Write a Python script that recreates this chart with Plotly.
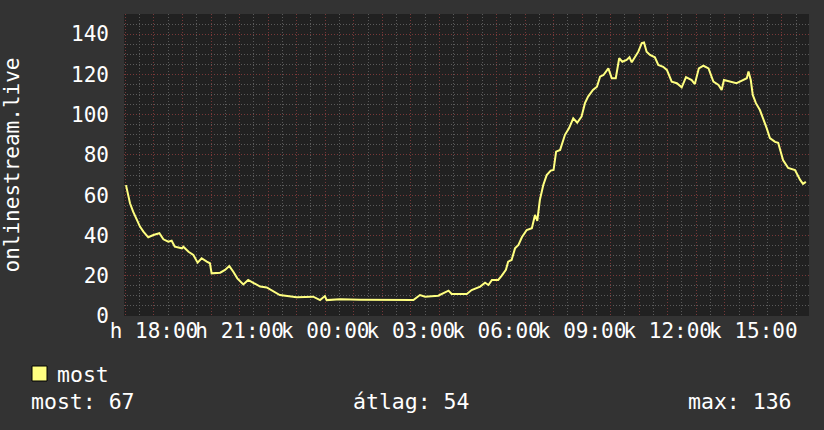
import plotly.graph_objects as go

# ---- data ----
# time axis: hours since Monday 17:00 (graph covers 24 h, 16:57 -> 16:57)
hours = [0.02, 0.16, 0.27, 0.39, 0.51, 0.63, 0.80, 0.98, 1.19, 1.33, 1.50, 1.62, 1.73, 1.98, 2.03,
         2.21, 2.38, 2.53, 2.67, 2.85, 2.96, 3.02, 3.32, 3.49, 3.64, 3.78, 3.92, 4.13, 4.30, 4.48,
         4.72, 4.95, 5.18, 5.41, 6.00, 6.35, 6.58, 6.82, 6.99, 7.05, 7.52, 8.22, 8.92, 9.62, 10.09,
         10.32, 10.50, 10.96, 11.32, 11.43, 11.96, 12.13, 12.43, 12.60, 12.72, 12.84, 13.06, 13.18,
         13.33, 13.41, 13.53, 13.65, 13.77, 13.89, 14.06, 14.24, 14.35, 14.43, 14.52, 14.64, 14.76,
         14.90, 15.00, 15.09, 15.23, 15.40, 15.54, 15.69, 15.83, 15.98, 16.10, 16.21, 16.38, 16.52,
         16.63, 16.75, 16.92, 17.04, 17.18, 17.30, 17.41, 17.56, 17.66, 17.74, 17.86, 17.97, 18.09,
         18.17, 18.26, 18.38, 18.55, 18.67, 18.84, 18.97, 19.14, 19.32, 19.49, 19.64, 19.84, 19.95,
         20.09, 20.25, 20.43, 20.60, 20.78, 20.89, 20.97, 21.18, 21.41, 21.60, 21.77, 21.83, 21.91,
         21.98, 22.09, 22.23, 22.35, 22.47, 22.58, 22.76, 22.87, 23.04, 23.22, 23.46, 23.64, 23.74,
         23.84]
most = [65, 56, 51.8, 47.7, 44.4, 41.9, 39.1, 40.2, 41.1, 38.1, 36.9, 37.4, 34.4, 33.6, 34.4,
        31.9, 30.3, 26.5, 28.7, 27, 26.2, 21.2, 21.5, 22.9, 24.8, 22, 18.7, 15.7, 17.9, 16.5,
        14.6, 14.2, 12.1, 10.4, 9.3, 9.6, 9.6, 7.9, 9.9, 7.9, 8.3, 8.1, 7.9, 7.9, 7.9,
        10.4, 9.6, 10.1, 12.6, 10.9, 10.9, 12.9, 14.6, 16.5, 15.4, 17.9, 17.9, 19.9,
        22.9, 27, 27.8, 33.6, 35.3, 39.1, 42.7, 43.6, 50.2, 47.3, 57.6, 65.1, 70,
        72.2, 72.5, 81.6, 82.5, 90, 93.2, 98.2, 96, 99, 105.7, 109, 112.3, 113.9,
        118.9, 119.7, 123, 118.1, 118.1, 128, 126.3, 127.2, 128.5, 126, 128.5, 131.3, 135.5,
        135.8, 131.3, 129.7, 128.5, 124.7, 123.8, 122.2, 116.4, 115.6, 113.6, 118.6, 117.2, 115.2,
        123, 124.3, 123, 116.4, 114.8, 112.3, 117.2, 116.4, 115.6, 116.9, 118.1, 121.4, 117.2,
        109.8, 105.7, 102.3, 98.2, 93.2, 88.4, 86.5, 86, 77.5, 73.5, 72.5, 67.6, 65.6,
        66.6]

tick_hours = [1, 4, 7, 10, 13, 16, 19, 22]
tick_labels = ["h 18:00", "h 21:00", "k 00:00", "k 03:00", "k 06:00", "k 09:00", "k 12:00", "k 15:00"]
y_ticks = [0, 20, 40, 60, 80, 100, 120, 140]

series_name = "most"
y_title = "onlinestream.live"
stat_current = 67
stat_avg = 54
stat_max = 136

# ---- style / layout ----
W, H = 824, 430
L, R, T, B = 124, 15, 14, 114
PW, PH = W - L - R, H - T - B
X_RANGE = [-0.05, 23.95]
Y_RANGE = [0, 150]
FONT = "DejaVu Sans Mono"
FS = 21
FS_LEG = 21.5
BG = "#333333"
CANVAS = "#212121"
LINE = "#FFFF80"
MINOR = "#5a5a5a"
MAJOR = "#783838"
DOTS = "1px,2px"


def px(xp):
    return (xp - L) / PW


def py(yp):
    return (H - B - yp) / PH


# every hour gets a major grid line; only every third has a label
major_vals = list(range(0, 24))
major_text = [tick_labels[tick_hours.index(h)] if h in tick_hours else "" for h in major_vals]

fig = go.Figure()
fig.add_trace(go.Scatter(x=hours, y=most, mode="lines", line=dict(color=LINE, width=2),
                         showlegend=False, hoverinfo="skip"))
# axis arrows
fig.add_trace(go.Scatter(x=[X_RANGE[0] + 0.02], y=[Y_RANGE[1] + 1.5], mode="markers",
                         marker=dict(symbol="triangle-up", size=7, color="#00cc00"),
                         cliponaxis=False, showlegend=False, hoverinfo="skip"))
fig.add_trace(go.Scatter(x=[X_RANGE[1] + 0.14], y=[0.5], mode="markers",
                         marker=dict(symbol="triangle-right", size=7, color="#00cc00"),
                         cliponaxis=False, showlegend=False, hoverinfo="skip"))

fig.update_layout(
    width=W, height=H, margin=dict(l=L, r=R, t=T, b=B, autoexpand=False),
    paper_bgcolor=BG, plot_bgcolor=CANVAS,
    font=dict(family=FONT, size=FS, color="white"),
    showlegend=False,
)
fig.update_xaxes(
    range=X_RANGE, tickmode="array", tickvals=major_vals, ticktext=major_text, tickangle=0,
    showgrid=True, gridcolor=MAJOR, griddash=DOTS, gridwidth=1,
    ticks="", ticklabelstandoff=0, zeroline=False, showline=False,
    tickfont=dict(family=FONT, size=FS, color="white"),
    minor=dict(dtick=0.5, tick0=0, showgrid=True, gridcolor=MINOR, griddash=DOTS, gridwidth=1),
)
fig.update_yaxes(
    range=Y_RANGE, tickmode="array", tickvals=y_ticks,
    showgrid=True, gridcolor=MAJOR, griddash=DOTS, gridwidth=1,
    ticks="", ticklabelstandoff=14, zeroline=False, showline=False,
    tickfont=dict(family=FONT, size=FS, color="white"),
    title=dict(text=y_title, font=dict(family=FONT, size=FS, color="white"), standoff=46),
    minor=dict(dtick=5, tick0=0, showgrid=True, gridcolor=MINOR, griddash=DOTS, gridwidth=1),
)

# legend swatch + label
fig.add_shape(type="rect", xref="paper", yref="paper",
              x0=px(32), x1=px(47), y0=py(381), y1=py(366),
              fillcolor=LINE, line=dict(color="black", width=1))
fig.add_annotation(xref="paper", yref="paper", x=px(55), y=py(374), text=series_name,
                   showarrow=False, xanchor="left", yanchor="middle",
                   font=dict(family=FONT, size=FS_LEG, color="white"))
# statistics row
fig.add_annotation(xref="paper", yref="paper", x=px(29), y=py(402), text=f"most: {stat_current}",
                   showarrow=False, xanchor="left", yanchor="middle",
                   font=dict(family=FONT, size=FS_LEG, color="white"))
fig.add_annotation(xref="paper", yref="paper", x=px(351), y=py(402), text=f"átlag: {stat_avg}",
                   showarrow=False, xanchor="left", yanchor="middle",
                   font=dict(family=FONT, size=FS_LEG, color="white"))
fig.add_annotation(xref="paper", yref="paper", x=px(794), y=py(402), text=f"max: {stat_max}",
                   showarrow=False, xanchor="right", yanchor="middle",
                   font=dict(family=FONT, size=FS_LEG, color="white"))

fig.write_html("out.html", config={"displayModeBar": False},
               post_script="document.body.style.margin='0px';")
